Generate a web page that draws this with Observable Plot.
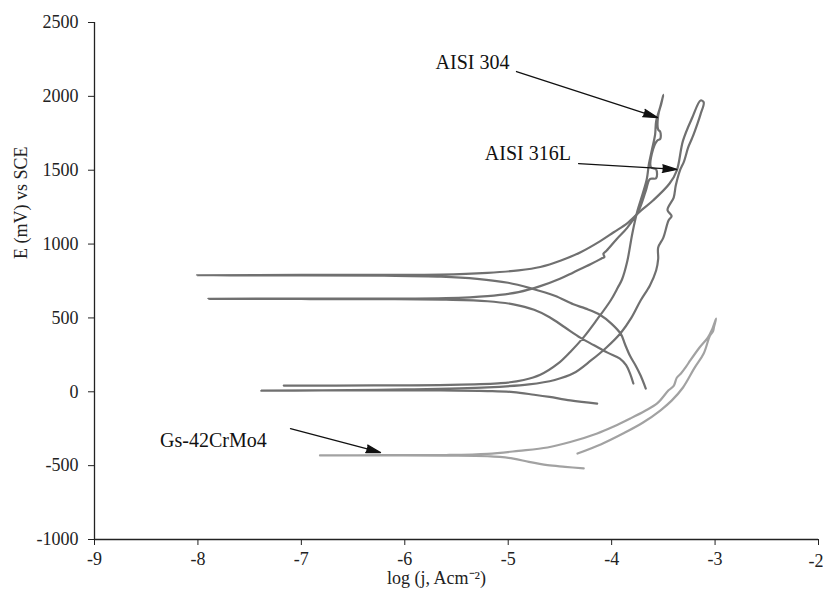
<!DOCTYPE html>
<html><head><meta charset="utf-8">
<script src="https://cdn.jsdelivr.net/npm/d3@7"></script>
<script src="https://cdn.jsdelivr.net/npm/@observablehq/plot@0.6"></script>
<style>body{margin:0;background:#fff}svg{display:block}</style>
</head><body><div id="chart"></div>
<script>
// ---- axis ticks ----
const xTicks = [-9, -8, -7, -6, -5, -4, -3, -2];
const yTicks = [-1000, -500, 0, 500, 1000, 1500, 2000, 2500];

// ---- AISI 304 (log j, E mV) ----
const aisi304LogJ = [-3.79,-3.82,-3.86,-3.92,-4.04,-4.17,-4.30,-4.45,-4.60,-4.75,-4.95,-5.2,-5.6,-6.2,-7.0,-7.9,
  -7.0,-6.2,-5.6,-5.2,-4.9,-4.69,-4.5,-4.37,-4.2,-4.09,-4.07,-4.08,-4.05,-3.95,-3.85,-3.74,-3.67,-3.63,-3.57,-3.57,-3.62,-3.60,-3.56,-3.53,-3.53,-3.55,-3.55,-3.52,-3.50,
  -3.53,-3.57,-3.58,-3.61,-3.64,-3.66,-3.70,-3.75,-3.80,-3.85,-3.90,-3.94,-4.01,-4.14,-4.27,-4.40,-4.52,-4.69,-4.85,-5.07,-5.56,-6.3,-7.17];
const aisi304E = [56,120,180,225,265,315,365,435,505,555,592,613,623,627,628,629,
  631,631,634,648,675,715,765,808,865,905,912,935,955,1035,1110,1225,1360,1440,1445,1505,1520,1640,1700,1712,1760,1775,1870,1950,2010,
  1930,1830,1740,1640,1540,1440,1340,1227,1072,880,760,706,618,490,370,270,190,115,80,58,47,43,42];

// ---- AISI 316L ----
const aisi316LogJ = [-3.67,-3.72,-3.77,-3.82,-3.87,-3.91,-4.0,-4.11,-4.25,-4.37,-4.55,-4.78,-5.0,-5.3,-5.65,-6.2,-7.0,-8.01,
  -7.0,-6.2,-5.65,-5.2,-4.9,-4.69,-4.49,-4.3,-4.11,-3.98,-3.85,-3.72,-3.60,-3.44,-3.37,-3.31,-3.22,-3.14,
  -3.11,-3.14,-3.17,-3.22,-3.26,-3.30,-3.34,-3.38,-3.40,-3.46,-3.42,-3.45,-3.50,-3.55,-3.55,-3.57,-3.63,-3.72,-3.81,-3.91,-4.05,-4.20,-4.37,-4.55,-4.8,-5.2,-6.0,-6.8,-7.39,
  -6.5,-5.65,-5.2,-4.95,-4.75,-4.6,-4.4,-4.14];
const aisi316E = [22,110,180,240,320,390,460,520,563,592,650,700,738,765,780,786,788,789,
  791,791,793,805,822,845,889,945,1020,1080,1140,1225,1295,1410,1498,1700,1857,1972,
  1960,1880,1816,1720,1654,1560,1498,1396,1315,1230,1190,1160,1044,977,900,821,720,618,500,400,300,212,125,80,50,30,16,10,8,
  10,9,5,-2,-20,-35,-58,-80];

// ---- Gs-42CrMo4 ----
const gsLogJ = [-4.27,-4.45,-4.62,-4.80,-4.95,-5.20,-5.6,-6.2,-6.82,
  -6.2,-5.6,-5.2,-4.9,-4.62,-4.4,-4.14,-3.98,-3.82,-3.68,-3.56,-3.45,-3.40,-3.37,-3.33,-3.28,-3.24,-3.15,-3.07,-3.03,-2.99,
  -3.01,-3.02,-3.05,-3.11,-3.20,-3.31,-3.42,-3.53,-3.70,-3.89,-4.10,-4.33];
const gsE = [-519,-508,-497,-475,-452,-436,-432,-431,-431,
  -429,-428,-420,-400,-377,-340,-282,-235,-181,-130,-79,10,40,95,124,170,212,300,367,420,495,
  440,410,380,259,160,29,-60,-127,-210,-283,-355,-418];

// ---- annotations ----
const labelText = ["AISI 304", "AISI 316L", "Gs-42CrMo4"];
const labelX = [-5.345, -4.81, -7.85];
const labelY = [2229, 1613, -330];
const arrowFromX = [-4.92, -4.32, -7.105];
const arrowFromY = [2168, 1545, -249];
const arrowToX = [-3.557, -3.37, -6.235];
const arrowToY = [1857, 1505, -411];

const axisTitleX = "log (j, Acm\u207B\u00B2)";
const axisTitleY = "E (mV) vs SCE";

const series = (name, xs, ys) => xs.map((x, i) => ({alloy: name, x, y: ys[i]}));
const steel = [...series("AISI 304", aisi304LogJ, aisi304E), ...series("AISI 316L", aisi316LogJ, aisi316E)];
const gs = series("Gs-42CrMo4", gsLogJ, gsE);
const labels = labelText.map((t, i) => ({t, x: labelX[i], y: labelY[i]}));
const arrows = arrowFromX.map((x1, i) => ({x1, y1: arrowFromY[i], x2: arrowToX[i], y2: arrowToY[i]}));
const lastX = xTicks[xTicks.length - 1];

const font = "'Liberation Serif', 'Times New Roman', serif";
const plot = Plot.plot({
  width: 823, height: 594,
  marginTop: 22, marginRight: 5, marginBottom: 55, marginLeft: 94,
  style: {fontFamily: font, fontSize: "18px", color: "#222", background: "#fff"},
  x: {domain: [-9, -2]},
  y: {domain: [-1000, 2500]},
  marks: [
    Plot.axisX({ticks: xTicks, tickSize: 6, tickPadding: 7, label: null, tickFormat: d => d === lastX ? "" : String(d), fontSize: 18, fontFamily: font}),
    Plot.text([lastX], {x: d => d, y: yTicks[0], text: d => String(d), textAnchor: "end", dx: 5, dy: 22, fontSize: 18, fontFamily: font, fill: "#222"}),
    Plot.axisY({ticks: yTicks, tickSize: 6, tickPadding: 10, label: null, tickFormat: d => String(d), fontSize: 18, fontFamily: font}),
    Plot.ruleX([-9], {stroke: "#222", strokeWidth: 1.3}),
    Plot.ruleY([-1000], {stroke: "#222", strokeWidth: 1.3}),
    Plot.line(gs, {x: "x", y: "y", z: "alloy", stroke: "#a2a2a2", strokeWidth: 2.2, curve: "catmull-rom"}),
    Plot.line(steel, {x: "x", y: "y", z: "alloy", stroke: "#707070", strokeWidth: 2.2, curve: "catmull-rom"}),
    Plot.arrow(arrows, {x1: "x1", y1: "y1", x2: "x2", y2: "y2", stroke: "#111", strokeWidth: 1.3, headLength: 17, headAngle: 30}),
    Plot.text(labels, {x: "x", y: "y", text: "t", fontSize: 20, fontFamily: font, fill: "#111"}),
    Plot.text([axisTitleX], {text: d => d, frameAnchor: "bottom", dx: -20, dy: 44, fontSize: 18, fontFamily: font, fill: "#222"}),
    Plot.text([axisTitleY], {text: d => d, frameAnchor: "left", dx: -73, dy: -22, rotate: -90, fontSize: 18, fontFamily: font, fill: "#222"})
  ]
});
d3.select(plot).selectAll('g[aria-label="arrow"] path').attr("fill", "#111");
document.getElementById("chart").appendChild(plot);
</script>
</body></html>
